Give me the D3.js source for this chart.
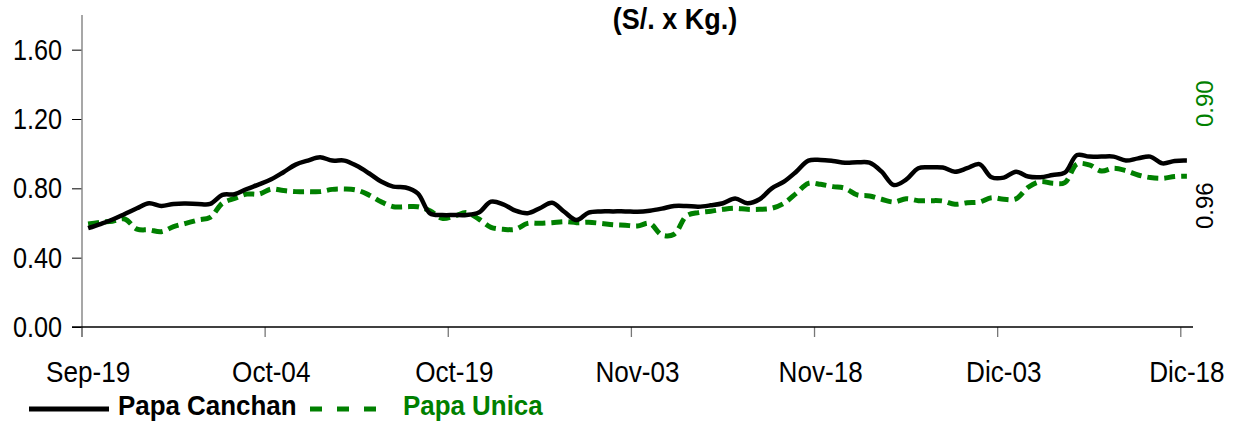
<!DOCTYPE html>
<html><head><meta charset="utf-8">
<script src="https://cdn.jsdelivr.net/npm/d3@7"></script>
<style>
html,body{margin:0;padding:0;background:#fff;}
svg{display:block;font-family:Arial,"Liberation Sans",sans-serif;}
</style></head>
<body>
<svg id="c" width="1258" height="421"></svg>
<script>
// ---- data ----
const tickLabels = ["Sep-19","Oct-04","Oct-19","Nov-03","Nov-18","Dic-03","Dic-18"];
const tickEvery = 15;
const papaCanchan = [
0.57,0.594,0.62,0.652,0.685,0.714,0.698,0.71,0.712,0.71,
0.71,0.762,0.766,0.796,0.823,0.852,0.893,0.937,0.96,0.979,
0.96,0.96,0.93,0.887,0.839,0.81,0.805,0.771,0.656,0.646,
0.646,0.646,0.66,0.723,0.708,0.671,0.656,0.685,0.717,0.665,
0.617,0.66,0.667,0.667,0.667,0.665,0.671,0.683,0.698,0.698,
0.694,0.702,0.714,0.741,0.714,0.737,0.80,0.839,0.896,0.96,
0.964,0.958,0.948,0.95,0.948,0.896,0.819,0.85,0.916,0.921,
0.92,0.896,0.916,0.94,0.864,0.862,0.896,0.868,0.864,0.877,
0.89,0.992,0.983,0.983,0.983,0.96,0.973,0.983,0.944,0.958,0.96];
const papaUnica = [
0.594,0.604,0.61,0.623,0.565,0.56,0.55,0.579,0.598,0.617,
0.633,0.714,0.742,0.767,0.767,0.796,0.787,0.781,0.781,0.781,
0.794,0.796,0.79,0.762,0.723,0.694,0.694,0.694,0.671,0.627,
0.64,0.66,0.623,0.575,0.564,0.564,0.598,0.598,0.602,0.608,
0.602,0.604,0.598,0.59,0.587,0.583,0.598,0.531,0.535,0.64,
0.66,0.668,0.679,0.685,0.679,0.679,0.685,0.714,0.771,0.829,
0.823,0.81,0.80,0.762,0.756,0.737,0.721,0.74,0.729,0.729,
0.727,0.708,0.717,0.721,0.746,0.737,0.739,0.806,0.839,0.829,
0.833,0.94,0.935,0.90,0.916,0.902,0.877,0.862,0.858,0.868,0.87];
const yTicks = [0,0.4,0.8,1.2,1.6];
const lastLabels = [{text:"0.90",color:"#008000"},{text:"0.96",color:"#000"}];

// ---- layout ----
const svg = d3.select("#c");
const mLeft = 82, mRight = 1193, mTop = 15, mBottom = 327;
const idx = d3.range(papaCanchan.length);
const x = d3.scaleBand().domain(idx).range([mLeft, mRight]).padding(0);
const bw = x.bandwidth();
const y = d3.scaleLinear().domain([0,1.8]).range([mBottom, mTop]);
const cx = i => x(i) + bw/2;

// title
svg.append("text").attr("transform","translate(675,29) scale(0.9,1)")
  .attr("text-anchor","middle").attr("font-size",30).attr("font-weight","bold")
  .attr("fill","#000").text("(S/. x Kg.)");

// y axis
const yAxis = d3.axisLeft(y).tickValues(yTicks).tickFormat(d3.format(".2f")).tickSize(10).tickSizeOuter(0);
const gy = svg.append("g").attr("transform",`translate(${mLeft},0)`).call(yAxis);
gy.select(".domain").remove();
gy.selectAll(".tick line").attr("stroke","#000");
gy.selectAll(".tick text").remove();
yTicks.forEach(t=>{
  svg.append("text").attr("transform",`translate(62,${y(t)+10}) scale(0.87,1)`)
    .attr("text-anchor","end").attr("font-size",29).attr("fill","#000")
    .text(d3.format(".2f")(t));
});
svg.append("line").attr("x1",mLeft).attr("x2",mLeft).attr("y1",mTop).attr("y2",mBottom+10)
  .attr("stroke","#8a8a8a").attr("stroke-width",1.5);

// x axis
const tickIdx = idx.filter(i => i % tickEvery === 0);
const xAxis = d3.axisBottom(x).tickValues(tickIdx).tickSize(10).tickSizeOuter(0).tickFormat(()=> "");
const gx = svg.append("g").attr("transform",`translate(0,${mBottom})`).call(xAxis);
gx.select(".domain").remove();
gx.selectAll(".tick line").attr("transform",`translate(${-bw/2},0)`).attr("stroke","#777").attr("stroke-width",1.3);
svg.append("line").attr("x1",mLeft-10).attr("x2",mRight).attr("y1",mBottom).attr("y2",mBottom)
  .attr("stroke","#000").attr("stroke-width",1.3);
tickIdx.forEach((i,k)=>{
  svg.append("text").attr("transform",`translate(${cx(i)},382) scale(0.87,1)`)
    .attr("text-anchor","middle").attr("font-size",30).attr("fill","#000").text(tickLabels[k]);
});

// lines
const line = d3.line().x((d,i)=>cx(i)).y(d=>y(d)).curve(d3.curveCatmullRom.alpha(0.5));
svg.append("path").datum(papaUnica).attr("d",line).attr("fill","none")
  .attr("stroke","#008000").attr("stroke-width",5).attr("stroke-dasharray","11,6");
svg.append("path").datum(papaCanchan).attr("d",line).attr("fill","none")
  .attr("stroke","#000").attr("stroke-width",4.5).attr("stroke-linejoin","round");

// right rotated labels
svg.append("text").attr("transform","translate(1213,127) rotate(-90)")
  .attr("font-size",24).attr("fill",lastLabels[0].color).text(lastLabels[0].text);
svg.append("text").attr("transform","translate(1213,229) rotate(-90)")
  .attr("font-size",24).attr("fill",lastLabels[1].color).text(lastLabels[1].text);

// legend
svg.append("line").attr("x1",29).attr("x2",109).attr("y1",409).attr("y2",409)
  .attr("stroke","#000").attr("stroke-width",5);
svg.append("text").attr("transform","translate(118,415) scale(0.96,1)")
  .attr("font-size",27).attr("font-weight","bold").attr("fill","#000").text("Papa Canchan");
svg.append("line").attr("x1",310).attr("x2",384).attr("y1",409).attr("y2",409)
  .attr("stroke","#008000").attr("stroke-width",5).attr("stroke-dasharray","12,15");
svg.append("text").attr("transform","translate(403,415) scale(0.96,1)")
  .attr("font-size",27).attr("font-weight","bold").attr("fill","#008000").text("Papa Unica");
</script>
</body></html>
